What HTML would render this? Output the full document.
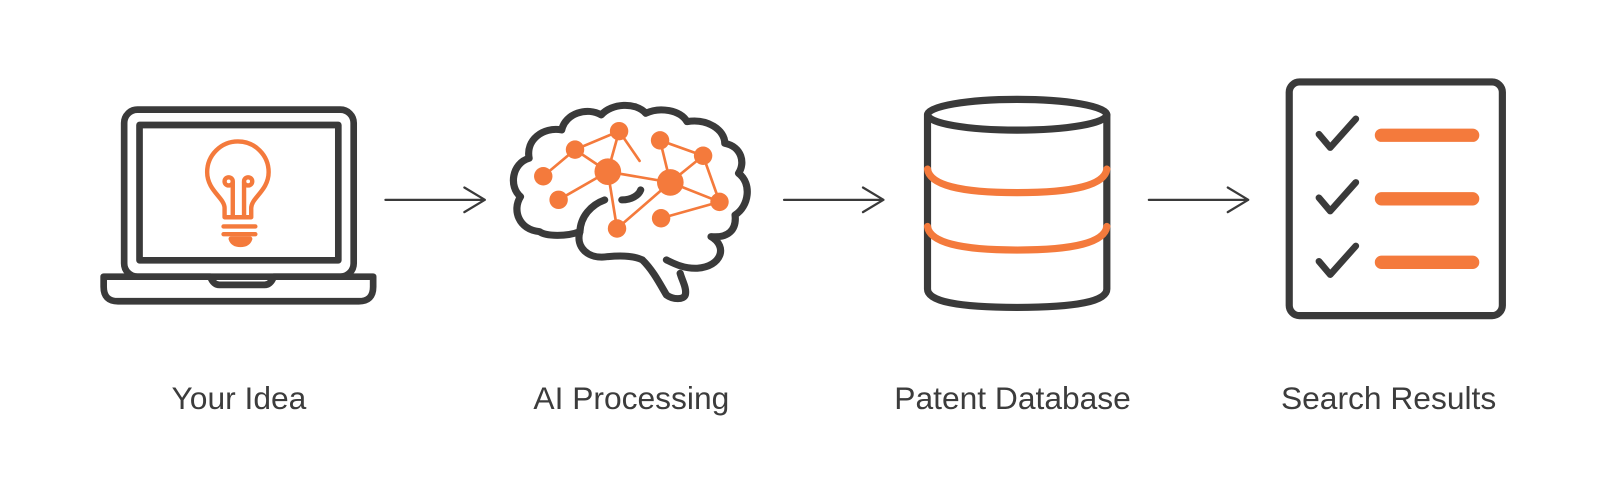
<!DOCTYPE html>
<html><head><meta charset="utf-8"><style>
html,body{margin:0;padding:0;background:#fff;}
svg{display:block;}
text{font-family:"Liberation Sans",sans-serif;font-size:31px;fill:#3c3c3c;text-anchor:middle;}
</style></head><body>
<svg width="1605" height="498" viewBox="0 0 1566 486" xmlns="http://www.w3.org/2000/svg">
<rect width="1566" height="486" fill="#fff"/>
<g fill="none" stroke="#3a3a3a" stroke-linecap="round" stroke-linejoin="round">
 <rect x="121" y="107" width="224" height="163" rx="13" stroke-width="6.5"/>
 <rect x="136" y="122" width="194" height="132" stroke-width="6.5"/>
 <path d="M101,270 L205,270 Q208,278 214,278 L258,278 Q264,278 267,270 L364,270 L364,280 Q364,294 350,294 L115,294 Q101,294 101,280 Z" stroke-width="6.5"/>
 <g stroke-width="2.2">
  <path d="M376,195 H473 M453,183 L473,195 L453,207"/>
  <path d="M765,195 H862 M842,183 L862,195 L842,207"/>
  <path d="M1121,195 H1218 M1198,183 L1218,195 L1198,207"/>
 </g>
 <ellipse cx="992.5" cy="112" rx="87.5" ry="15" stroke-width="7"/>
 <path d="M905,112 V282 Q905,300 992.5,300 Q1080,300 1080,282 V112" stroke-width="7"/>
 <rect x="1258" y="80" width="208" height="228" rx="10" stroke-width="7"/>
 <path d="M1287,131 L1298,144 L1323,116 M1287,193 L1298,206 L1323,178 M1287,255 L1298,268 L1323,240" stroke-width="6.5"/>
</g>
<g fill="none" stroke="#f47a3c" stroke-width="4.3" stroke-linecap="round" stroke-linejoin="round">
 <path d="M219,212 L219,203 C219,193 202,186 202,168 A30,30 0 1 1 262,168 C262,186 245,193 245,203 L245,212 Z"/>
 <circle cx="223" cy="177" r="4"/><circle cx="242" cy="177" r="4"/>
 <path d="M227,178 V212 M238,178 V212 M218,221 H249 M218,228.5 H249"/>
 <path d="M225,233 H244 Q242,239 234.5,239 Q227,239 225,233 Z" fill="#f47a3c"/>
</g>
<g fill="none" stroke="#f47a3c" stroke-width="7" stroke-linecap="round">
 <path d="M905,165 Q908,188 992.5,188 Q1077,188 1080,165"/>
 <path d="M905,221 Q908,244 992.5,244 Q1077,244 1080,221"/>
 <path d="M1348,132 H1437 M1348,194 H1437 M1348,256 H1437" stroke-width="13"/>
</g>
<g transform="translate(476,87.8) scale(0.335,0.3252)" fill="none" stroke="#3a3a3a" stroke-width="21" stroke-linecap="round" stroke-linejoin="round">
 <path d="M340,330 C300,345 270,380 268,425 C230,440 170,440 150,425 C90,420 70,360 95,320 C60,290 70,220 120,205 C110,150 160,110 215,120 C225,70 290,50 330,75 C360,40 430,35 460,70 C500,50 560,60 580,95 C640,85 690,120 690,160 C740,170 750,220 730,250 C770,280 760,350 720,375 C725,420 700,445 650,440 C700,470 680,530 610,535 C570,537 540,520 520,510"/>
 <path d="M268,425 C255,470 290,510 350,500 C400,495 430,500 450,510 C480,540 500,580 520,615 C540,630 570,630 575,615 C580,595 565,570 560,550"/>
 <path d="M390,330 C420,330 440,315 445,300"/>
</g>
<g stroke="#f47a3c" stroke-width="2.6" stroke-linecap="round" fill="none">
 <path d="M530,172 L561,146 L604,128 L593,167.5 L561,146 M604,128 L624,157 M593,167.5 L545,195 M593,167.5 L602,223 M593,167.5 L654,178 L644,137 L686,152 L654,178 L702,197 L686,152 M654,178 L602,223 M645,213 L702,197"/>
</g>
<g fill="#f47a3c">
 <circle cx="530" cy="172" r="9"/><circle cx="561" cy="146" r="9"/><circle cx="604" cy="128" r="9"/>
 <circle cx="593" cy="167.5" r="13"/><circle cx="545" cy="195" r="9"/><circle cx="602" cy="223" r="9"/>
 <circle cx="644" cy="137" r="9"/><circle cx="686" cy="152" r="9"/><circle cx="654" cy="178" r="13"/>
 <circle cx="702" cy="197" r="9"/><circle cx="645" cy="213" r="9"/>
</g>
<text x="233" y="399">Your Idea</text>
<text x="616" y="399">AI Processing</text>
<text x="988" y="399">Patent Database</text>
<text x="1355" y="399">Search Results</text>
</svg>
</body></html>
